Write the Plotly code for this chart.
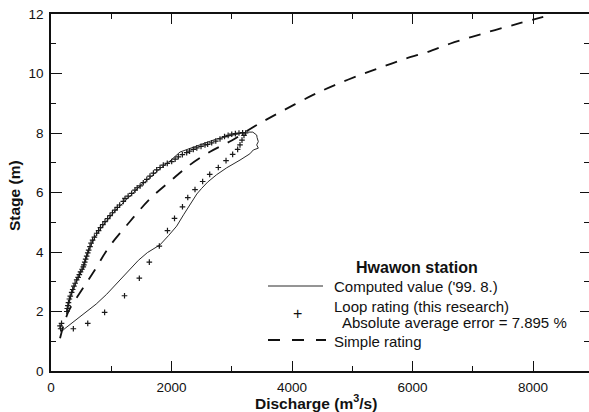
import plotly.graph_objects as go

# ---------------- data ----------------
# Computed value ('99. 8.) - hysteresis loop (rising limb, peak, falling limb)
computed_q = [170, 150, 160, 205, 232, 500, 750, 924, 1100, 1228, 1450, 1600, 1809, 1950,
              2086, 2200, 2300, 2420, 2501, 2600, 2750, 2916, 3137, 3300, 3358, 3441,
              3414, 3441, 3420, 3414, 3350, 3248, 3165, 2971, 2750, 2550, 2362, 2141,
              1975, 1809, 1643, 1477, 1339, 1200, 1062, 896, 758, 647, 592, 536, 470,
              426, 343, 300, 265]
computed_h = [1.55, 1.45, 1.35, 1.38, 1.43, 1.85, 2.25, 2.58, 2.95, 3.23, 3.72, 3.98, 4.24, 4.55,
              4.87, 5.25, 5.55, 5.95, 6.14, 6.35, 6.6, 6.83, 7.09, 7.3, 7.43, 7.49,
              7.6, 7.71, 7.85, 7.93, 8.03, 8.03, 8.0, 7.9, 7.8, 7.66, 7.52, 7.36,
              7.06, 6.8, 6.5, 6.22, 5.93, 5.66, 5.38, 4.98, 4.6, 4.15, 3.85, 3.47, 3.2,
              3.02, 2.6, 2.3, 2.0]

# Loop rating (this research)
loop_q = [150, 160, 175, 371, 610, 890, 1220, 1466, 1632, 1798, 1933, 2050, 2182, 2270, 2390,
          2517, 2634, 2777, 2905, 3015, 3098, 3137, 3170, 3203, 3230,
          3180, 3120, 3060, 3000, 2940, 2880, 2805, 2735, 2667, 2600, 2556, 2490, 2420, 2362,
          2300, 2252, 2180, 2113, 2060, 2003, 1930, 1864, 1810, 1754, 1700, 1643, 1590, 1532,
          1480, 1430, 1394, 1339, 1280, 1228, 1200, 1140, 1100, 1062, 1020, 980, 940, 896,
          860, 820, 790, 758, 720, 690, 665, 647, 625, 610, 592, 575, 560, 545, 536, 515,
          490, 470, 450, 426, 400, 380, 360, 343, 320, 305, 290, 280, 270, 262]
loop_h = [1.52, 1.42, 1.6, 1.42, 1.6, 1.97, 2.53, 3.12, 3.66, 4.2, 4.72, 5.13, 5.52, 5.83, 6.1,
          6.37, 6.61, 6.84, 7.07, 7.28, 7.45, 7.6, 7.76, 7.92, 8.0,
          8.01, 8.0, 7.98, 7.96, 7.92, 7.88, 7.8, 7.73, 7.67, 7.62, 7.6, 7.55, 7.5, 7.45,
          7.39, 7.34, 7.27, 7.2, 7.12, 7.04, 6.98, 6.92, 6.84, 6.76, 6.65, 6.55, 6.44, 6.33,
          6.22, 6.16, 6.08, 5.97, 5.88, 5.8, 5.7, 5.58, 5.5, 5.41, 5.32, 5.22, 5.12, 5.02,
          4.92, 4.82, 4.72, 4.63, 4.5, 4.4, 4.3, 4.18, 4.06, 3.97, 3.86, 3.76, 3.66, 3.57, 3.5, 3.42,
          3.33, 3.24, 3.15, 3.06, 2.95, 2.85, 2.74, 2.64, 2.52, 2.42, 2.3, 2.2, 2.1, 2.0]

# Simple rating
simple_q = [150, 290, 510, 730, 950, 1300, 1650, 2000, 2300, 2640, 3000, 3400, 3850, 4350,
            4710, 5130, 5510, 5900, 6260, 6620, 7000, 7370, 7780, 8170]
simple_h = [1.1, 2.0, 2.72, 3.4, 4.13, 5.0, 5.8, 6.42, 6.92, 7.37, 7.75, 8.25, 8.75, 9.28,
            9.61, 9.95, 10.23, 10.51, 10.73, 11.0, 11.24, 11.46, 11.69, 11.9]

x_ticks = [0, 2000, 4000, 6000, 8000]
y_ticks = [0, 2, 4, 6, 8, 10, 12]

# ---------------- layout geometry ----------------
W, H = 589, 412
ML, MR, MT, MB = 51, 0, 14, 41
PW, PH = W - ML - MR, H - MT - MB
XMAX = PW / 0.06025


def px(x):
    return (x - ML) / PW


def py(y):
    return (H - MB - y) / PH


FONT = "Liberation Sans, Arial, sans-serif"

fig = go.Figure()
fig.add_trace(go.Scatter(x=computed_q, y=computed_h, mode="lines",
                         line=dict(color="#2a2a2a", width=1), showlegend=False, hoverinfo="skip"))
fig.add_trace(go.Scatter(x=loop_q, y=loop_h, mode="markers",
                         marker=dict(symbol="cross-thin", size=4, line=dict(color="#1a1a1a", width=1.2)),
                         showlegend=False, hoverinfo="skip"))
fig.add_trace(go.Scatter(x=simple_q, y=simple_h, mode="lines", line_shape="spline",
                         line=dict(color="#111111", width=1.8, dash="12px,10px"),
                         showlegend=False, hoverinfo="skip"))
# dummy trace for mirrored tick axes
fig.add_trace(go.Scatter(x=[None], y=[None], xaxis="x2", yaxis="y2", showlegend=False, hoverinfo="skip"))

axis_common = dict(ticks="inside", showline=True, linecolor="#111", linewidth=1.5,
                   tickcolor="#111", tickwidth=1.2, showgrid=False, zeroline=False)

fig.update_layout(
    width=W, height=H,
    margin=dict(l=ML, r=MR, t=MT, b=MB, autoexpand=False),
    paper_bgcolor="white", plot_bgcolor="white",
    font=dict(family=FONT, color="#111", size=13),
    xaxis=dict(range=[0, XMAX], tickvals=x_ticks, ticktext=[str(v) for v in x_ticks], ticklen=10,
               minor=dict(dtick=1000, ticklen=5, ticks="inside", tickcolor="#111", showgrid=False),
               tickfont=dict(size=13.5), ticklabelstandoff=3, **axis_common),
    yaxis=dict(range=[0, 12], tickvals=y_ticks, ticktext=[str(v) for v in y_ticks], ticklen=11,
               minor=dict(dtick=1, ticklen=5, ticks="inside", tickcolor="#111", showgrid=False),
               tickfont=dict(size=13.5), ticklabelstandoff=3, **axis_common),
    xaxis2=dict(range=[0, XMAX], overlaying="x", anchor="y", side="top", ticks="inside",
                tickvals=x_ticks, ticklen=10, showticklabels=False, showline=True, linecolor="#111",
                linewidth=1.5, tickcolor="#111", tickwidth=1.2, showgrid=False, zeroline=False,
                minor=dict(dtick=1000, ticklen=5, ticks="inside", tickcolor="#111", showgrid=False)),
    yaxis2=dict(range=[0, 12], overlaying="y", anchor="x", side="right", ticks="inside",
                tickvals=y_ticks, ticklen=9, showticklabels=False, showline=False,
                tickcolor="#111", tickwidth=1.2, showgrid=False, zeroline=False,
                minor=dict(dtick=1, ticklen=5, ticks="inside", tickcolor="#111", showgrid=False)),
)

ann = []
# axis titles
ann.append(dict(text="<b>Stage (m)</b>", x=px(14), y=py(196), xref="paper", yref="paper",
                textangle=-90, showarrow=False, font=dict(size=15.5), xanchor="center", yanchor="middle"))
ann.append(dict(text="<b>Discharge (m<sup>3</sup>/s)</b>", x=px(316), y=py(402), xref="paper", yref="paper",
                showarrow=False, font=dict(size=15.5), xanchor="center", yanchor="middle"))
# legend texts
ann.append(dict(text="<b>Hwawon station</b>", x=px(417), y=py(267), xref="paper", yref="paper",
                showarrow=False, font=dict(size=16), xanchor="center", yanchor="middle"))
ann.append(dict(text="Computed value ('99. 8.)", x=px(332), y=py(286), xref="paper", yref="paper",
                showarrow=False, font=dict(size=15), xanchor="left", yanchor="middle"))
ann.append(dict(text="Loop rating (this research)", x=px(332), y=py(306), xref="paper", yref="paper",
                showarrow=False, font=dict(size=15), xanchor="left", yanchor="middle"))
ann.append(dict(text="Absolute average error = 7.895 %", x=px(340), y=py(322.5), xref="paper", yref="paper",
                showarrow=False, font=dict(size=15), xanchor="left", yanchor="middle"))
ann.append(dict(text="Simple rating", x=px(332), y=py(341), xref="paper", yref="paper",
                showarrow=False, font=dict(size=15), xanchor="left", yanchor="middle"))
ann.append(dict(text="+", x=px(297), y=py(313), xref="paper", yref="paper",
                showarrow=False, font=dict(size=16), xanchor="center", yanchor="middle"))
fig.update_layout(annotations=ann)

fig.add_shape(type="line", xref="paper", yref="paper", x0=px(268), x1=px(323), y0=py(286), y1=py(286),
              line=dict(color="#2a2a2a", width=1))
fig.add_shape(type="line", xref="paper", yref="paper", x0=px(268), x1=px(326), y0=py(340), y1=py(340),
              line=dict(color="#111", width=1.8, dash="12px,12px"))

fig.write_html("out.html")
